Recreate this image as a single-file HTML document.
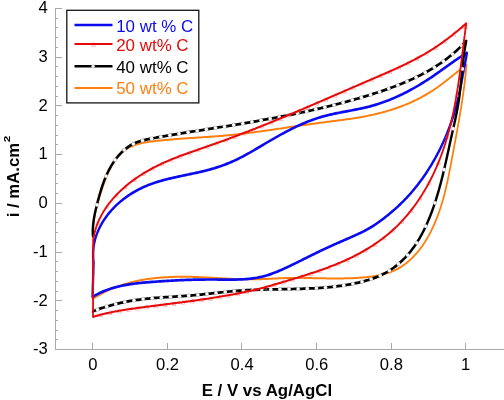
<!DOCTYPE html>
<html lang="en"><head><meta charset="utf-8"><title>Cyclic voltammograms</title><style>html,body{margin:0;padding:0;background:#fff}body{width:504px;height:400px;overflow:hidden}</style></head><body><svg width="504" height="400" viewBox="0 0 504 400" style="display:block">
<rect width="504" height="400" fill="#fff"/>
<g stroke="#a9a9a9" stroke-width="1" fill="none" shape-rendering="crispEdges">
<path d="M55.5,8.0 V349.5 H504"/>
<path d="M55.5,8.50 h6"/>
<path d="M55.5,18.24 h2.8"/>
<path d="M55.5,27.99 h2.8"/>
<path d="M55.5,37.73 h2.8"/>
<path d="M55.5,47.47 h2.8"/>
<path d="M55.5,57.21 h6"/>
<path d="M55.5,66.96 h2.8"/>
<path d="M55.5,76.70 h2.8"/>
<path d="M55.5,86.44 h2.8"/>
<path d="M55.5,96.19 h2.8"/>
<path d="M55.5,105.93 h6"/>
<path d="M55.5,115.67 h2.8"/>
<path d="M55.5,125.41 h2.8"/>
<path d="M55.5,135.16 h2.8"/>
<path d="M55.5,144.90 h2.8"/>
<path d="M55.5,154.64 h6"/>
<path d="M55.5,164.39 h2.8"/>
<path d="M55.5,174.13 h2.8"/>
<path d="M55.5,183.87 h2.8"/>
<path d="M55.5,193.61 h2.8"/>
<path d="M55.5,203.36 h6"/>
<path d="M55.5,213.10 h2.8"/>
<path d="M55.5,222.84 h2.8"/>
<path d="M55.5,232.59 h2.8"/>
<path d="M55.5,242.33 h2.8"/>
<path d="M55.5,252.07 h6"/>
<path d="M55.5,261.81 h2.8"/>
<path d="M55.5,271.56 h2.8"/>
<path d="M55.5,281.30 h2.8"/>
<path d="M55.5,291.04 h2.8"/>
<path d="M55.5,300.79 h6"/>
<path d="M55.5,310.53 h2.8"/>
<path d="M55.5,320.27 h2.8"/>
<path d="M55.5,330.01 h2.8"/>
<path d="M55.5,339.76 h2.8"/>
<path d="M92.5,349.5 v-6.2"/>
<path d="M167.5,349.5 v-6.2"/>
<path d="M241.5,349.5 v-6.2"/>
<path d="M316.5,349.5 v-6.2"/>
<path d="M391.5,349.5 v-6.2"/>
<path d="M465.5,349.5 v-6.2"/>
</g>
<g transform="scale(0.87,1)">
<path d="M107.24,232.00 L107.24,230.45 L107.28,228.91 L107.35,227.38 L107.46,225.86 L107.59,224.35 L107.76,222.86 L107.95,221.37 L108.17,219.89 L108.42,218.42 L108.69,216.95 L108.99,215.50 L109.31,214.04 L109.65,212.60 L110.01,211.16 L110.39,209.72 L110.79,208.28 L111.21,206.85 L111.64,205.42 L112.09,203.99 L112.56,202.56 L113.03,201.13 L113.52,199.70 L114.02,198.26 L114.52,196.83 L115.04,195.39 L115.56,193.95 L116.09,192.50 L116.62,191.05 L117.16,189.59 L117.71,188.14 L118.27,186.68 L118.84,185.22 L119.42,183.76 L120.01,182.30 L120.62,180.85 L121.24,179.40 L121.88,177.96 L122.54,176.53 L123.22,175.10 L123.93,173.68 L124.65,172.28 L125.40,170.89 L126.18,169.51 L126.98,168.14 L127.82,166.79 L128.68,165.46 L129.57,164.14 L130.50,162.85 L131.46,161.57 L132.46,160.32 L133.49,159.09 L134.57,157.89 L135.67,156.72 L136.82,155.58 L138.00,154.48 L139.22,153.42 L140.48,152.40 L141.77,151.44 L143.10,150.52 L144.46,149.67 L145.86,148.87 L147.29,148.12 L148.76,147.43 L150.25,146.79 L151.77,146.19 L153.32,145.64 L154.89,145.13 L156.49,144.66 L158.11,144.23 L159.74,143.83 L161.40,143.46 L163.07,143.13 L164.75,142.82 L166.45,142.54 L168.16,142.27 L169.88,142.03 L171.60,141.81 L173.33,141.60 L175.06,141.41 L176.80,141.22 L178.54,141.04 L180.28,140.87 L182.01,140.70 L183.75,140.54 L185.48,140.39 L187.22,140.24 L188.95,140.09 L190.68,139.95 L192.41,139.81 L194.15,139.68 L195.88,139.55 L197.61,139.42 L199.34,139.30 L201.07,139.18 L202.79,139.06 L204.52,138.95 L206.25,138.83 L207.98,138.72 L209.70,138.62 L211.43,138.51 L213.16,138.41 L214.88,138.31 L216.61,138.21 L218.33,138.11 L220.05,138.01 L221.78,137.91 L223.50,137.81 L225.22,137.71 L226.95,137.62 L228.67,137.52 L230.39,137.42 L232.11,137.32 L233.83,137.22 L235.55,137.12 L237.27,137.02 L238.99,136.92 L240.71,136.81 L242.43,136.70 L244.15,136.60 L245.87,136.48 L247.59,136.37 L249.31,136.25 L251.03,136.13 L252.75,136.01 L254.47,135.89 L256.18,135.76 L257.90,135.62 L259.62,135.49 L261.34,135.35 L263.06,135.20 L264.77,135.05 L266.49,134.90 L268.21,134.74 L269.93,134.58 L271.64,134.42 L273.36,134.25 L275.08,134.08 L276.80,133.91 L278.51,133.73 L280.23,133.55 L281.95,133.37 L283.66,133.19 L285.38,133.00 L287.10,132.81 L288.81,132.62 L290.53,132.42 L292.25,132.23 L293.96,132.03 L295.68,131.83 L297.40,131.62 L299.11,131.42 L300.83,131.21 L302.54,131.00 L304.26,130.79 L305.98,130.58 L307.69,130.37 L309.41,130.16 L311.12,129.94 L312.84,129.73 L314.55,129.51 L316.27,129.29 L317.99,129.07 L319.70,128.85 L321.42,128.63 L323.13,128.41 L324.85,128.19 L326.56,127.97 L328.28,127.75 L329.99,127.53 L331.71,127.30 L333.42,127.08 L335.14,126.86 L336.85,126.64 L338.57,126.42 L340.28,126.20 L342.00,125.98 L343.71,125.76 L345.43,125.55 L347.14,125.33 L348.86,125.11 L350.57,124.90 L352.29,124.68 L354.00,124.47 L355.72,124.26 L357.43,124.05 L359.15,123.84 L360.86,123.64 L362.58,123.43 L364.29,123.23 L366.01,123.03 L367.72,122.83 L369.44,122.63 L371.15,122.44 L372.87,122.25 L374.58,122.05 L376.30,121.86 L378.01,121.67 L379.72,121.48 L381.44,121.29 L383.15,121.10 L384.86,120.91 L386.58,120.72 L388.29,120.52 L390.00,120.33 L391.71,120.13 L393.42,119.93 L395.13,119.73 L396.84,119.52 L398.55,119.32 L400.26,119.10 L401.96,118.89 L403.67,118.67 L405.37,118.44 L407.08,118.21 L408.78,117.98 L410.48,117.74 L412.19,117.49 L413.89,117.24 L415.59,116.98 L417.28,116.71 L418.98,116.44 L420.67,116.16 L422.37,115.87 L424.06,115.57 L425.75,115.27 L427.44,114.95 L429.13,114.63 L430.82,114.30 L432.50,113.95 L434.19,113.60 L435.87,113.24 L437.55,112.87 L439.23,112.48 L440.90,112.09 L442.58,111.68 L444.25,111.27 L445.92,110.84 L447.58,110.40 L449.24,109.95 L450.90,109.50 L452.55,109.02 L454.20,108.54 L455.85,108.05 L457.49,107.55 L459.12,107.03 L460.75,106.50 L462.38,105.97 L464.00,105.42 L465.61,104.85 L467.22,104.28 L468.82,103.70 L470.42,103.10 L472.01,102.49 L473.59,101.87 L475.16,101.24 L476.73,100.59 L478.29,99.94 L479.85,99.27 L481.39,98.59 L482.93,97.90 L484.45,97.19 L485.97,96.47 L487.48,95.74 L488.99,95.00 L490.48,94.24 L491.96,93.48 L493.43,92.70 L494.90,91.90 L496.35,91.10 L497.79,90.28 L499.22,89.44 L500.64,88.60 L502.06,87.75 L503.46,86.88 L504.86,86.00 L506.25,85.12 L507.63,84.23 L509.01,83.32 L510.38,82.42 L511.75,81.50 L513.11,80.58 L514.47,79.66 L515.82,78.73 L517.18,77.79 L518.53,76.85 L519.88,75.92 L521.23,74.97 L522.58,74.03 L523.93,73.09 L525.28,72.15 L526.63,71.21 L527.99,70.27 L529.35,69.33 L530.71,68.39 L532.08,67.46 L533.45,66.54 L534.82,65.62 L536.21,64.70 L536.06,66.21 L535.91,67.72 L535.75,69.23 L535.59,70.74 L535.42,72.25 L535.24,73.76 L535.06,75.26 L534.87,76.76 L534.68,78.27 L534.49,79.77 L534.28,81.27 L534.08,82.77 L533.87,84.26 L533.65,85.76 L533.43,87.26 L533.20,88.75 L532.97,90.24 L532.74,91.74 L532.50,93.23 L532.26,94.72 L532.01,96.21 L531.76,97.70 L531.51,99.19 L531.25,100.67 L530.99,102.16 L530.72,103.65 L530.45,105.13 L530.18,106.62 L529.91,108.10 L529.63,109.58 L529.35,111.07 L529.07,112.55 L528.78,114.03 L528.49,115.52 L528.20,117.00 L527.91,118.48 L527.61,119.96 L527.31,121.44 L527.02,122.92 L526.71,124.40 L526.41,125.88 L526.10,127.36 L525.80,128.84 L525.49,130.32 L525.18,131.80 L524.87,133.28 L524.56,134.76 L524.24,136.24 L523.93,137.72 L523.61,139.20 L523.30,140.68 L522.98,142.16 L522.66,143.64 L522.35,145.12 L522.03,146.60 L521.71,148.08 L521.39,149.56 L521.07,151.04 L520.75,152.53 L520.44,154.01 L520.12,155.49 L519.80,156.98 L519.48,158.46 L519.17,159.95 L518.85,161.43 L518.53,162.92 L518.21,164.40 L517.88,165.88 L517.56,167.37 L517.23,168.85 L516.90,170.34 L516.57,171.82 L516.23,173.30 L515.89,174.78 L515.54,176.26 L515.19,177.74 L514.84,179.22 L514.48,180.70 L514.11,182.18 L513.74,183.65 L513.36,185.12 L512.97,186.59 L512.58,188.06 L512.18,189.53 L511.77,191.00 L511.35,192.46 L510.92,193.92 L510.49,195.38 L510.04,196.84 L509.59,198.29 L509.13,199.75 L508.65,201.20 L508.16,202.64 L507.67,204.09 L507.16,205.53 L506.64,206.96 L506.11,208.40 L505.56,209.83 L505.00,211.26 L504.43,212.68 L503.85,214.10 L503.25,215.52 L502.63,216.93 L502.00,218.34 L501.36,219.75 L500.70,221.15 L500.03,222.54 L499.34,223.94 L498.63,225.32 L497.90,226.71 L497.16,228.08 L496.40,229.46 L495.62,230.83 L494.83,232.19 L494.01,233.54 L493.18,234.89 L492.33,236.23 L491.46,237.56 L490.57,238.87 L489.67,240.18 L488.74,241.48 L487.80,242.76 L486.84,244.03 L485.85,245.29 L484.85,246.53 L483.83,247.75 L482.79,248.96 L481.73,250.16 L480.65,251.33 L479.55,252.49 L478.42,253.62 L477.28,254.74 L476.12,255.84 L474.94,256.91 L473.73,257.96 L472.51,258.99 L471.26,259.99 L470.00,260.97 L468.71,261.93 L467.40,262.85 L466.07,263.76 L464.71,264.63 L463.34,265.47 L461.94,266.29 L460.52,267.07 L459.08,267.82 L457.62,268.55 L456.13,269.23 L454.63,269.89 L453.09,270.51 L451.54,271.10 L449.97,271.66 L448.37,272.18 L446.76,272.68 L445.13,273.14 L443.48,273.58 L441.82,273.99 L440.14,274.37 L438.45,274.73 L436.75,275.07 L435.03,275.38 L433.31,275.67 L431.58,275.93 L429.83,276.18 L428.08,276.41 L426.33,276.62 L424.57,276.82 L422.81,277.00 L421.04,277.16 L419.27,277.31 L417.51,277.45 L415.74,277.57 L413.97,277.69 L412.21,277.79 L410.45,277.89 L408.69,277.98 L406.94,278.06 L405.18,278.13 L403.43,278.19 L401.69,278.24 L399.94,278.29 L398.20,278.33 L396.46,278.37 L394.72,278.39 L392.98,278.42 L391.25,278.43 L389.51,278.44 L387.78,278.45 L386.05,278.45 L384.32,278.45 L382.59,278.44 L380.87,278.43 L379.14,278.42 L377.42,278.40 L375.69,278.38 L373.97,278.36 L372.25,278.34 L370.53,278.31 L368.81,278.29 L367.09,278.26 L365.37,278.23 L363.65,278.20 L361.93,278.17 L360.22,278.15 L358.50,278.12 L356.78,278.09 L355.06,278.07 L353.34,278.04 L351.63,278.02 L349.91,278.00 L348.19,277.98 L346.47,277.97 L344.75,277.96 L343.03,277.95 L341.31,277.95 L339.58,277.95 L337.86,277.95 L336.14,277.96 L334.41,277.98 L332.68,278.00 L330.96,278.03 L329.23,278.06 L327.50,278.10 L325.76,278.14 L324.03,278.19 L322.30,278.25 L320.56,278.31 L318.82,278.38 L317.08,278.45 L315.35,278.52 L313.61,278.59 L311.87,278.66 L310.13,278.73 L308.39,278.81 L306.65,278.88 L304.91,278.95 L303.17,279.01 L301.43,279.07 L299.69,279.13 L297.95,279.19 L296.21,279.23 L294.48,279.27 L292.74,279.31 L291.01,279.33 L289.27,279.35 L287.54,279.35 L285.81,279.35 L284.08,279.34 L282.36,279.33 L280.63,279.30 L278.90,279.27 L277.18,279.23 L275.45,279.19 L273.73,279.14 L272.01,279.08 L270.29,279.02 L268.56,278.96 L266.84,278.89 L265.12,278.82 L263.40,278.74 L261.68,278.66 L259.96,278.58 L258.23,278.49 L256.51,278.41 L254.79,278.32 L253.07,278.23 L251.34,278.14 L249.62,278.05 L247.89,277.96 L246.17,277.88 L244.44,277.79 L242.72,277.70 L240.99,277.62 L239.26,277.53 L237.53,277.45 L235.79,277.38 L234.06,277.30 L232.33,277.23 L230.59,277.16 L228.85,277.10 L227.11,277.04 L225.37,276.99 L223.63,276.94 L221.89,276.90 L220.14,276.86 L218.40,276.83 L216.65,276.80 L214.91,276.78 L213.16,276.77 L211.42,276.76 L209.67,276.76 L207.93,276.76 L206.18,276.78 L204.44,276.80 L202.69,276.82 L200.95,276.86 L199.21,276.90 L197.47,276.95 L195.73,277.01 L193.99,277.08 L192.25,277.16 L190.51,277.24 L188.78,277.34 L187.04,277.45 L185.31,277.56 L183.58,277.68 L181.86,277.82 L180.13,277.96 L178.41,278.12 L176.69,278.29 L174.97,278.46 L173.25,278.65 L171.54,278.85 L169.83,279.06 L168.13,279.29 L166.42,279.52 L164.72,279.77 L163.03,280.03 L161.34,280.30 L159.65,280.59 L157.96,280.89 L156.28,281.20 L154.60,281.53 L152.93,281.87 L151.27,282.22 L149.60,282.59 L147.94,282.98 L146.29,283.37 L144.64,283.79 L143.00,284.22 L141.36,284.66 L139.73,285.12 L138.10,285.59 L136.48,286.08 L134.86,286.59 L133.25,287.12 L131.65,287.66 L130.05,288.21 L128.46,288.79 L126.87,289.38 L125.29,289.99 L123.72,290.62 L122.15,291.26 L120.59,291.92 L119.04,292.61 L117.50,293.31 L115.96,294.03 L114.43,294.76 L112.91,295.52 L111.39,296.30 L109.89,297.10 L108.39,297.91 L106.90,298.75 L107.24,232.00" fill="none" stroke="#ff7f0e" stroke-width="2.0" stroke-linejoin="round" stroke-linecap="round"/>
<path d="M107.59,262.00 L107.36,260.45 L107.19,258.91 L107.07,257.37 L107.00,255.84 L106.98,254.31 L107.00,252.79 L107.08,251.28 L107.20,249.77 L107.37,248.28 L107.58,246.79 L107.84,245.31 L108.14,243.84 L108.48,242.38 L108.87,240.92 L109.30,239.48 L109.76,238.05 L110.27,236.63 L110.81,235.22 L111.39,233.82 L112.01,232.43 L112.67,231.06 L113.36,229.70 L114.08,228.35 L114.84,227.01 L115.63,225.69 L116.45,224.38 L117.31,223.09 L118.19,221.81 L119.10,220.54 L120.04,219.29 L121.01,218.06 L122.01,216.84 L123.03,215.64 L124.08,214.45 L125.16,213.28 L126.26,212.13 L127.39,210.99 L128.54,209.87 L129.71,208.76 L130.91,207.68 L132.12,206.61 L133.36,205.55 L134.63,204.52 L135.91,203.50 L137.21,202.50 L138.53,201.52 L139.87,200.55 L141.23,199.61 L142.61,198.68 L144.00,197.77 L145.41,196.88 L146.83,196.01 L148.28,195.16 L149.73,194.33 L151.20,193.52 L152.69,192.73 L154.18,191.95 L155.69,191.20 L157.22,190.47 L158.75,189.76 L160.29,189.06 L161.85,188.39 L163.41,187.74 L164.99,187.11 L166.57,186.51 L168.16,185.92 L169.76,185.35 L171.36,184.80 L172.98,184.27 L174.60,183.75 L176.23,183.25 L177.86,182.77 L179.50,182.31 L181.15,181.85 L182.80,181.42 L184.46,180.99 L186.12,180.58 L187.79,180.18 L189.46,179.79 L191.14,179.41 L192.82,179.04 L194.50,178.68 L196.19,178.33 L197.88,177.98 L199.57,177.64 L201.26,177.31 L202.96,176.98 L204.66,176.66 L206.36,176.34 L208.06,176.03 L209.77,175.72 L211.47,175.41 L213.17,175.10 L214.88,174.79 L216.58,174.48 L218.28,174.17 L219.98,173.86 L221.68,173.54 L223.38,173.23 L225.08,172.91 L226.78,172.58 L228.47,172.25 L230.16,171.92 L231.85,171.57 L233.53,171.22 L235.21,170.86 L236.89,170.50 L238.56,170.12 L240.23,169.74 L241.89,169.34 L243.55,168.93 L245.20,168.51 L246.85,168.08 L248.49,167.63 L250.13,167.17 L251.76,166.70 L253.39,166.22 L255.01,165.72 L256.62,165.21 L258.23,164.69 L259.83,164.15 L261.42,163.60 L263.01,163.04 L264.60,162.47 L266.18,161.88 L267.75,161.28 L269.31,160.66 L270.87,160.03 L272.43,159.39 L273.97,158.74 L275.51,158.07 L277.05,157.39 L278.58,156.70 L280.11,155.99 L281.63,155.28 L283.14,154.56 L284.66,153.83 L286.17,153.09 L287.67,152.35 L289.18,151.60 L290.68,150.84 L292.18,150.08 L293.67,149.32 L295.17,148.55 L296.67,147.78 L298.16,147.01 L299.65,146.24 L301.15,145.47 L302.64,144.69 L304.14,143.92 L305.64,143.15 L307.13,142.39 L308.63,141.62 L310.13,140.86 L311.63,140.10 L313.14,139.34 L314.64,138.59 L316.15,137.84 L317.65,137.09 L319.17,136.35 L320.68,135.61 L322.19,134.88 L323.71,134.15 L325.23,133.43 L326.75,132.72 L328.28,132.01 L329.81,131.31 L331.34,130.61 L332.87,129.93 L334.41,129.25 L335.96,128.58 L337.50,127.91 L339.05,127.26 L340.61,126.61 L342.16,125.98 L343.73,125.35 L345.29,124.73 L346.87,124.13 L348.44,123.53 L350.02,122.95 L351.61,122.38 L353.20,121.81 L354.80,121.27 L356.40,120.73 L358.01,120.20 L359.62,119.69 L361.24,119.19 L362.87,118.71 L364.50,118.24 L366.14,117.78 L367.78,117.34 L369.43,116.92 L371.09,116.50 L372.75,116.11 L374.42,115.73 L376.10,115.36 L377.78,115.00 L379.47,114.65 L381.16,114.32 L382.85,113.99 L384.55,113.67 L386.25,113.36 L387.96,113.06 L389.67,112.76 L391.38,112.47 L393.09,112.18 L394.80,111.90 L396.52,111.62 L398.23,111.34 L399.95,111.06 L401.66,110.78 L403.38,110.49 L405.09,110.21 L406.81,109.92 L408.52,109.63 L410.23,109.34 L411.94,109.04 L413.64,108.73 L415.35,108.42 L417.04,108.09 L418.74,107.76 L420.43,107.42 L422.12,107.06 L423.80,106.70 L425.47,106.32 L427.14,105.93 L428.81,105.52 L430.46,105.10 L432.12,104.67 L433.76,104.23 L435.41,103.77 L437.04,103.30 L438.67,102.82 L440.30,102.32 L441.92,101.81 L443.53,101.29 L445.14,100.76 L446.74,100.22 L448.34,99.67 L449.93,99.10 L451.52,98.52 L453.10,97.93 L454.68,97.33 L456.25,96.72 L457.81,96.10 L459.37,95.47 L460.93,94.83 L462.48,94.17 L464.02,93.51 L465.56,92.84 L467.10,92.16 L468.63,91.47 L470.15,90.76 L471.67,90.05 L473.19,89.33 L474.70,88.61 L476.20,87.87 L477.70,87.12 L479.20,86.37 L480.69,85.61 L482.18,84.83 L483.66,84.06 L485.13,83.27 L486.60,82.47 L488.07,81.67 L489.53,80.86 L490.99,80.05 L492.44,79.22 L493.89,78.39 L495.34,77.55 L496.78,76.71 L498.21,75.86 L499.64,75.00 L501.07,74.14 L502.49,73.27 L503.91,72.40 L505.33,71.53 L506.75,70.65 L508.16,69.77 L509.57,68.89 L510.98,68.01 L512.39,67.13 L513.80,66.25 L515.21,65.37 L516.63,64.49 L518.04,63.62 L519.45,62.75 L520.87,61.88 L522.28,61.02 L523.70,60.16 L525.13,59.31 L526.55,58.47 L527.98,57.63 L529.42,56.80 L530.86,55.98 L532.30,55.17 L533.75,54.37 L535.20,53.58 L536.67,52.80 L536.42,54.28 L536.15,55.76 L535.86,57.24 L535.55,58.72 L535.24,60.19 L534.92,61.67 L534.59,63.14 L534.25,64.62 L533.92,66.09 L533.59,67.57 L533.26,69.04 L532.94,70.52 L532.62,72.00 L532.30,73.48 L531.99,74.96 L531.68,76.44 L531.37,77.92 L531.06,79.40 L530.75,80.89 L530.44,82.37 L530.12,83.85 L529.80,85.33 L529.47,86.81 L529.14,88.29 L528.80,89.77 L528.46,91.24 L528.10,92.71 L527.74,94.19 L527.36,95.66 L526.98,97.12 L526.58,98.59 L526.18,100.05 L525.76,101.51 L525.34,102.97 L524.90,104.43 L524.45,105.88 L524.00,107.33 L523.53,108.78 L523.06,110.23 L522.57,111.67 L522.07,113.11 L521.57,114.55 L521.05,115.98 L520.52,117.41 L519.98,118.84 L519.44,120.27 L518.88,121.69 L518.31,123.11 L517.73,124.52 L517.14,125.94 L516.54,127.34 L515.93,128.75 L515.31,130.15 L514.68,131.55 L514.04,132.95 L513.39,134.34 L512.73,135.73 L512.06,137.11 L511.37,138.49 L510.68,139.87 L509.98,141.24 L509.27,142.61 L508.54,143.97 L507.81,145.33 L507.07,146.69 L506.31,148.04 L505.55,149.39 L504.77,150.73 L503.99,152.07 L503.19,153.40 L502.38,154.73 L501.57,156.06 L500.74,157.38 L499.90,158.69 L499.05,160.00 L498.19,161.31 L497.32,162.61 L496.44,163.91 L495.55,165.20 L494.65,166.49 L493.74,167.77 L492.82,169.04 L491.89,170.31 L490.94,171.58 L489.99,172.84 L489.03,174.09 L488.05,175.34 L487.07,176.58 L486.07,177.81 L485.06,179.04 L484.05,180.26 L483.02,181.48 L481.98,182.68 L480.93,183.89 L479.87,185.08 L478.80,186.26 L477.72,187.44 L476.62,188.61 L475.52,189.78 L474.40,190.93 L473.28,192.08 L472.14,193.21 L471.00,194.34 L469.84,195.46 L468.67,196.58 L467.49,197.68 L466.30,198.77 L465.09,199.86 L463.88,200.93 L462.66,202.00 L461.43,203.06 L460.18,204.11 L458.93,205.15 L457.67,206.18 L456.40,207.20 L455.12,208.22 L453.83,209.22 L452.53,210.22 L451.22,211.20 L449.91,212.18 L448.58,213.15 L447.25,214.11 L445.92,215.06 L444.57,216.00 L443.22,216.94 L441.86,217.86 L440.49,218.78 L439.11,219.69 L437.73,220.59 L436.35,221.47 L434.95,222.35 L433.54,223.21 L432.13,224.07 L430.70,224.90 L429.26,225.72 L427.81,226.52 L426.35,227.31 L424.88,228.07 L423.39,228.82 L421.89,229.54 L420.37,230.26 L418.85,230.95 L417.32,231.63 L415.77,232.30 L414.22,232.96 L412.66,233.60 L411.09,234.24 L409.52,234.87 L407.94,235.49 L406.36,236.10 L404.78,236.71 L403.19,237.31 L401.60,237.92 L400.01,238.52 L398.42,239.12 L396.83,239.72 L395.24,240.32 L393.65,240.92 L392.06,241.53 L390.48,242.13 L388.89,242.74 L387.30,243.35 L385.72,243.96 L384.14,244.57 L382.56,245.19 L380.98,245.80 L379.40,246.42 L377.83,247.05 L376.26,247.68 L374.68,248.31 L373.12,248.94 L371.55,249.58 L369.99,250.22 L368.42,250.87 L366.87,251.53 L365.31,252.18 L363.75,252.84 L362.20,253.50 L360.65,254.17 L359.10,254.83 L357.55,255.50 L356.00,256.17 L354.45,256.84 L352.90,257.52 L351.35,258.19 L349.80,258.86 L348.25,259.53 L346.70,260.20 L345.15,260.87 L343.60,261.54 L342.05,262.21 L340.50,262.87 L338.94,263.54 L337.38,264.20 L335.82,264.85 L334.26,265.50 L332.69,266.15 L331.13,266.79 L329.56,267.43 L327.98,268.06 L326.41,268.69 L324.82,269.31 L323.24,269.92 L321.65,270.53 L320.06,271.12 L318.46,271.70 L316.86,272.26 L315.25,272.81 L313.64,273.34 L312.02,273.86 L310.39,274.35 L308.76,274.83 L307.13,275.28 L305.49,275.70 L303.84,276.10 L302.18,276.48 L300.52,276.83 L298.85,277.15 L297.18,277.44 L295.50,277.72 L293.81,277.97 L292.12,278.19 L290.42,278.40 L288.72,278.59 L287.01,278.75 L285.30,278.90 L283.59,279.04 L281.87,279.15 L280.15,279.25 L278.42,279.34 L276.69,279.41 L274.96,279.47 L273.23,279.52 L271.49,279.56 L269.75,279.58 L268.01,279.60 L266.27,279.61 L264.53,279.62 L262.79,279.62 L261.04,279.61 L259.29,279.60 L257.55,279.59 L255.80,279.58 L254.06,279.56 L252.31,279.54 L250.57,279.53 L248.82,279.52 L247.08,279.50 L245.34,279.50 L243.60,279.49 L241.86,279.49 L240.12,279.50 L238.39,279.51 L236.65,279.52 L234.92,279.53 L233.18,279.55 L231.45,279.57 L229.72,279.59 L227.99,279.62 L226.26,279.65 L224.53,279.69 L222.81,279.72 L221.08,279.77 L219.35,279.81 L217.63,279.86 L215.90,279.91 L214.18,279.96 L212.45,280.02 L210.73,280.08 L209.01,280.14 L207.28,280.20 L205.56,280.27 L203.84,280.34 L202.12,280.42 L200.39,280.49 L198.67,280.57 L196.95,280.65 L195.23,280.74 L193.50,280.83 L191.78,280.92 L190.06,281.01 L188.34,281.10 L186.61,281.20 L184.89,281.30 L183.16,281.40 L181.44,281.51 L179.71,281.62 L177.99,281.73 L176.26,281.84 L174.53,281.95 L172.81,282.07 L171.08,282.19 L169.35,282.31 L167.62,282.44 L165.89,282.58 L164.17,282.72 L162.44,282.86 L160.72,283.02 L158.99,283.18 L157.27,283.35 L155.55,283.53 L153.84,283.73 L152.12,283.93 L150.41,284.14 L148.70,284.37 L147.00,284.61 L145.30,284.86 L143.60,285.13 L141.91,285.41 L140.22,285.71 L138.54,286.03 L136.86,286.36 L135.19,286.71 L133.52,287.08 L131.86,287.47 L130.21,287.88 L128.56,288.31 L126.92,288.76 L125.29,289.23 L123.66,289.73 L122.04,290.25 L120.43,290.79 L118.82,291.36 L117.23,291.96 L115.64,292.58 L114.07,293.23 L112.50,293.90 L110.94,294.61 L109.39,295.34 L107.85,296.11 L106.32,296.90 L107.59,262.00" fill="none" stroke="#0b0bf0" stroke-width="2.7" stroke-linejoin="round" stroke-linecap="round"/>
<path d="M106.78,236.00 L106.70,234.45 L106.65,232.92 L106.64,231.39 L106.68,229.87 L106.74,228.37 L106.84,226.87 L106.98,225.37 L107.14,223.89 L107.34,222.41 L107.56,220.94 L107.81,219.47 L108.08,218.00 L108.37,216.54 L108.69,215.08 L109.02,213.63 L109.37,212.17 L109.74,210.72 L110.13,209.26 L110.52,207.81 L110.93,206.35 L111.34,204.89 L111.76,203.42 L112.19,201.96 L112.63,200.49 L113.08,199.02 L113.53,197.55 L114.00,196.08 L114.47,194.61 L114.96,193.14 L115.46,191.67 L115.97,190.20 L116.50,188.74 L117.04,187.28 L117.60,185.83 L118.17,184.38 L118.77,182.93 L119.38,181.50 L120.01,180.07 L120.65,178.65 L121.32,177.24 L122.01,175.83 L122.72,174.44 L123.46,173.06 L124.22,171.69 L125.00,170.33 L125.81,168.99 L126.65,167.66 L127.51,166.34 L128.40,165.04 L129.32,163.75 L130.26,162.48 L131.24,161.23 L132.25,160.00 L133.29,158.78 L134.36,157.59 L135.47,156.42 L136.60,155.27 L137.77,154.15 L138.96,153.05 L140.19,151.99 L141.45,150.96 L142.73,149.97 L144.05,149.01 L145.40,148.08 L146.78,147.20 L148.18,146.36 L149.62,145.57 L151.08,144.82 L152.57,144.12 L154.09,143.47 L155.64,142.87 L157.22,142.32 L158.81,141.81 L160.43,141.34 L162.07,140.91 L163.72,140.51 L165.39,140.14 L167.08,139.79 L168.77,139.46 L170.47,139.15 L172.18,138.86 L173.89,138.57 L175.60,138.29 L177.31,138.01 L179.03,137.74 L180.74,137.46 L182.45,137.19 L184.17,136.93 L185.88,136.66 L187.59,136.40 L189.31,136.14 L191.02,135.88 L192.73,135.62 L194.45,135.37 L196.16,135.12 L197.87,134.87 L199.59,134.62 L201.30,134.37 L203.01,134.12 L204.73,133.88 L206.44,133.64 L208.15,133.39 L209.87,133.15 L211.58,132.91 L213.29,132.67 L215.01,132.43 L216.72,132.19 L218.43,131.96 L220.15,131.72 L221.86,131.48 L223.57,131.25 L225.29,131.01 L227.00,130.78 L228.71,130.54 L230.43,130.31 L232.14,130.07 L233.85,129.84 L235.57,129.60 L237.28,129.36 L238.99,129.13 L240.70,128.89 L242.42,128.65 L244.13,128.42 L245.84,128.18 L247.56,127.94 L249.27,127.71 L250.98,127.47 L252.69,127.23 L254.41,126.99 L256.12,126.75 L257.83,126.51 L259.54,126.27 L261.25,126.03 L262.96,125.78 L264.67,125.54 L266.39,125.30 L268.10,125.05 L269.81,124.81 L271.52,124.56 L273.23,124.32 L274.94,124.07 L276.65,123.82 L278.36,123.57 L280.07,123.32 L281.78,123.07 L283.49,122.82 L285.19,122.56 L286.90,122.31 L288.61,122.06 L290.32,121.80 L292.03,121.54 L293.73,121.28 L295.44,121.02 L297.15,120.76 L298.85,120.50 L300.56,120.23 L302.27,119.97 L303.97,119.70 L305.68,119.43 L307.38,119.16 L309.09,118.89 L310.79,118.62 L312.49,118.35 L314.20,118.07 L315.90,117.79 L317.60,117.51 L319.30,117.23 L321.01,116.95 L322.71,116.67 L324.41,116.38 L326.11,116.09 L327.81,115.80 L329.51,115.51 L331.21,115.22 L332.91,114.92 L334.60,114.63 L336.30,114.33 L338.00,114.03 L339.70,113.72 L341.39,113.42 L343.09,113.11 L344.78,112.80 L346.48,112.49 L348.17,112.18 L349.87,111.86 L351.56,111.54 L353.25,111.22 L354.95,110.90 L356.64,110.57 L358.33,110.25 L360.02,109.91 L361.71,109.58 L363.40,109.25 L365.09,108.91 L366.78,108.57 L368.46,108.23 L370.15,107.88 L371.84,107.53 L373.52,107.18 L375.21,106.83 L376.89,106.47 L378.58,106.11 L380.26,105.75 L381.94,105.39 L383.62,105.02 L385.31,104.65 L386.99,104.28 L388.67,103.90 L390.34,103.52 L392.02,103.14 L393.70,102.75 L395.38,102.37 L397.05,101.97 L398.73,101.58 L400.41,101.18 L402.08,100.78 L403.75,100.38 L405.43,99.97 L407.10,99.56 L408.77,99.14 L410.44,98.73 L412.11,98.31 L413.78,97.88 L415.45,97.45 L417.11,97.02 L418.78,96.59 L420.45,96.15 L422.11,95.71 L423.77,95.26 L425.44,94.81 L427.10,94.36 L428.76,93.90 L430.42,93.44 L432.08,92.98 L433.74,92.51 L435.39,92.04 L437.05,91.56 L438.70,91.07 L440.35,90.59 L441.99,90.09 L443.64,89.59 L445.28,89.09 L446.92,88.58 L448.56,88.07 L450.19,87.54 L451.82,87.02 L453.45,86.48 L455.08,85.95 L456.70,85.40 L458.31,84.85 L459.93,84.29 L461.54,83.72 L463.14,83.15 L464.74,82.57 L466.34,81.98 L467.93,81.38 L469.52,80.78 L471.10,80.17 L472.67,79.55 L474.25,78.92 L475.81,78.29 L477.37,77.64 L478.93,76.99 L480.48,76.33 L482.02,75.66 L483.56,74.98 L485.09,74.29 L486.61,73.59 L488.13,72.88 L489.64,72.17 L491.14,71.44 L492.64,70.70 L494.13,69.95 L495.61,69.20 L497.09,68.43 L498.55,67.65 L500.01,66.86 L501.46,66.06 L502.91,65.25 L504.34,64.42 L505.77,63.59 L507.19,62.74 L508.60,61.89 L510.00,61.02 L511.39,60.14 L512.77,59.24 L514.14,58.34 L515.51,57.42 L516.86,56.49 L518.21,55.54 L519.54,54.59 L520.87,53.62 L522.18,52.63 L523.48,51.64 L524.78,50.63 L526.06,49.60 L527.33,48.56 L528.59,47.51 L529.84,46.45 L531.08,45.37 L532.31,44.27 L533.52,43.16 L534.73,42.04 L535.92,40.90 L535.58,42.38 L535.26,43.86 L534.95,45.34 L534.65,46.82 L534.37,48.30 L534.09,49.79 L533.83,51.28 L533.58,52.76 L533.34,54.25 L533.11,55.74 L532.89,57.23 L532.67,58.73 L532.47,60.22 L532.27,61.71 L532.07,63.21 L531.88,64.70 L531.70,66.20 L531.52,67.70 L531.34,69.19 L531.17,70.69 L531.00,72.19 L530.83,73.69 L530.66,75.18 L530.49,76.68 L530.32,78.18 L530.16,79.68 L529.98,81.18 L529.81,82.68 L529.64,84.17 L529.46,85.67 L529.28,87.17 L529.09,88.67 L528.89,90.16 L528.70,91.66 L528.49,93.15 L528.28,94.65 L528.06,96.14 L527.83,97.63 L527.59,99.13 L527.34,100.62 L527.08,102.11 L526.82,103.59 L526.53,105.08 L526.24,106.57 L525.94,108.05 L525.62,109.54 L525.30,111.02 L524.96,112.50 L524.62,113.98 L524.27,115.46 L523.91,116.94 L523.54,118.41 L523.18,119.89 L522.80,121.37 L522.42,122.84 L522.04,124.32 L521.66,125.79 L521.28,127.26 L520.89,128.73 L520.51,130.21 L520.13,131.68 L519.75,133.15 L519.37,134.62 L518.99,136.09 L518.62,137.56 L518.25,139.03 L517.88,140.50 L517.51,141.97 L517.14,143.44 L516.77,144.90 L516.41,146.37 L516.04,147.84 L515.67,149.30 L515.31,150.77 L514.94,152.24 L514.57,153.70 L514.20,155.16 L513.83,156.63 L513.46,158.09 L513.08,159.55 L512.71,161.02 L512.33,162.48 L511.95,163.94 L511.57,165.40 L511.18,166.86 L510.79,168.32 L510.40,169.77 L510.00,171.23 L509.60,172.69 L509.20,174.14 L508.79,175.60 L508.37,177.05 L507.95,178.51 L507.53,179.96 L507.10,181.41 L506.66,182.86 L506.22,184.31 L505.77,185.76 L505.32,187.21 L504.86,188.66 L504.39,190.11 L503.91,191.55 L503.43,193.00 L502.94,194.44 L502.44,195.88 L501.93,197.33 L501.42,198.77 L500.89,200.21 L500.36,201.65 L499.82,203.08 L499.26,204.52 L498.70,205.96 L498.13,207.39 L497.55,208.83 L496.95,210.26 L496.35,211.69 L495.73,213.12 L495.11,214.54 L494.47,215.96 L493.82,217.38 L493.15,218.79 L492.48,220.20 L491.79,221.61 L491.09,223.00 L490.38,224.40 L489.65,225.78 L488.90,227.16 L488.15,228.54 L487.38,229.90 L486.59,231.26 L485.79,232.61 L484.97,233.95 L484.14,235.28 L483.29,236.60 L482.43,237.91 L481.54,239.21 L480.65,240.50 L479.73,241.78 L478.80,243.05 L477.85,244.30 L476.88,245.55 L475.89,246.78 L474.89,247.99 L473.86,249.20 L472.82,250.39 L471.76,251.56 L470.67,252.72 L469.57,253.87 L468.45,254.99 L467.31,256.11 L466.14,257.20 L464.96,258.28 L463.75,259.34 L462.52,260.39 L461.27,261.41 L460.00,262.42 L458.70,263.41 L457.39,264.38 L456.05,265.32 L454.69,266.25 L453.31,267.16 L451.91,268.04 L450.49,268.91 L449.06,269.75 L447.60,270.56 L446.13,271.36 L444.64,272.13 L443.13,272.87 L441.61,273.59 L440.08,274.28 L438.53,274.95 L436.96,275.59 L435.38,276.21 L433.79,276.80 L432.19,277.36 L430.57,277.90 L428.95,278.41 L427.31,278.91 L425.67,279.38 L424.02,279.83 L422.36,280.26 L420.70,280.68 L419.03,281.08 L417.35,281.46 L415.67,281.83 L413.99,282.19 L412.31,282.53 L410.62,282.86 L408.93,283.18 L407.24,283.49 L405.55,283.79 L403.86,284.07 L402.16,284.35 L400.47,284.61 L398.77,284.86 L397.07,285.11 L395.36,285.34 L393.66,285.56 L391.95,285.78 L390.24,285.98 L388.53,286.18 L386.82,286.36 L385.11,286.54 L383.40,286.71 L381.68,286.87 L379.97,287.03 L378.25,287.18 L376.53,287.31 L374.81,287.45 L373.09,287.57 L371.36,287.69 L369.64,287.80 L367.92,287.91 L366.19,288.01 L364.46,288.10 L362.73,288.19 L361.01,288.27 L359.28,288.35 L357.55,288.42 L355.81,288.49 L354.08,288.55 L352.35,288.61 L350.62,288.67 L348.88,288.72 L347.15,288.77 L345.41,288.81 L343.68,288.86 L341.94,288.90 L340.20,288.93 L338.46,288.97 L336.73,289.00 L334.99,289.03 L333.25,289.06 L331.51,289.09 L329.77,289.11 L328.03,289.14 L326.30,289.16 L324.56,289.19 L322.82,289.21 L321.08,289.24 L319.34,289.26 L317.60,289.29 L315.86,289.31 L314.12,289.34 L312.38,289.36 L310.65,289.39 L308.91,289.42 L307.17,289.45 L305.43,289.49 L303.70,289.53 L301.96,289.56 L300.22,289.61 L298.49,289.65 L296.75,289.70 L295.02,289.75 L293.28,289.81 L291.55,289.86 L289.82,289.93 L288.09,289.99 L286.35,290.07 L284.62,290.14 L282.89,290.23 L281.17,290.31 L279.44,290.41 L277.71,290.50 L275.99,290.61 L274.26,290.72 L272.54,290.84 L270.82,290.96 L269.09,291.08 L267.37,291.22 L265.65,291.35 L263.93,291.50 L262.22,291.64 L260.50,291.79 L258.78,291.94 L257.06,292.10 L255.35,292.25 L253.63,292.41 L251.91,292.57 L250.20,292.73 L248.48,292.90 L246.76,293.06 L245.05,293.23 L243.33,293.39 L241.62,293.56 L239.90,293.72 L238.18,293.88 L236.47,294.04 L234.75,294.20 L233.03,294.36 L231.31,294.52 L229.59,294.67 L227.87,294.82 L226.15,294.96 L224.43,295.11 L222.71,295.25 L220.99,295.38 L219.26,295.51 L217.54,295.63 L215.81,295.75 L214.09,295.86 L212.36,295.97 L210.63,296.08 L208.90,296.18 L207.17,296.28 L205.44,296.38 L203.71,296.48 L201.98,296.57 L200.25,296.67 L198.52,296.76 L196.78,296.85 L195.05,296.94 L193.32,297.04 L191.59,297.13 L189.86,297.23 L188.12,297.33 L186.39,297.43 L184.66,297.53 L182.93,297.64 L181.20,297.75 L179.47,297.87 L177.74,297.99 L176.02,298.11 L174.29,298.25 L172.56,298.38 L170.84,298.53 L169.11,298.68 L167.39,298.84 L165.67,299.00 L163.95,299.18 L162.23,299.36 L160.51,299.56 L158.80,299.76 L157.08,299.97 L155.37,300.19 L153.66,300.42 L151.95,300.67 L150.24,300.92 L148.54,301.18 L146.84,301.45 L145.14,301.74 L143.44,302.03 L141.74,302.33 L140.05,302.65 L138.36,302.97 L136.67,303.30 L134.99,303.65 L133.31,304.01 L131.63,304.37 L129.95,304.75 L128.28,305.14 L126.62,305.54 L124.95,305.96 L123.29,306.38 L121.63,306.81 L119.98,307.26 L118.33,307.72 L116.68,308.19 L115.04,308.67 L113.40,309.16 L111.77,309.66 L110.14,310.18 L108.52,310.71 L106.90,311.25" fill="none" stroke="#000000" stroke-width="2.75" stroke-linejoin="round" stroke-linecap="round"/>
<g fill="#fff" stroke="#777" stroke-width="0.3"><ellipse cx="111.4" cy="204.8" rx="2.13" ry="1.85"/><ellipse cx="121.9" cy="176.1" rx="2.13" ry="1.85"/><ellipse cx="132.3" cy="159.9" rx="2.13" ry="1.85"/><ellipse cx="142.8" cy="149.9" rx="2.13" ry="1.85"/><ellipse cx="153.3" cy="143.8" rx="2.13" ry="1.85"/><ellipse cx="163.8" cy="140.5" rx="2.13" ry="1.85"/><ellipse cx="174.3" cy="138.5" rx="2.13" ry="1.85"/><ellipse cx="184.8" cy="136.8" rx="2.13" ry="1.85"/><ellipse cx="195.2" cy="135.3" rx="2.13" ry="1.85"/><ellipse cx="205.7" cy="133.7" rx="2.13" ry="1.85"/><ellipse cx="216.2" cy="132.3" rx="2.13" ry="1.85"/><ellipse cx="226.7" cy="130.8" rx="2.13" ry="1.85"/><ellipse cx="237.2" cy="129.4" rx="2.13" ry="1.85"/><ellipse cx="247.7" cy="127.9" rx="2.13" ry="1.85"/><ellipse cx="258.1" cy="126.5" rx="2.13" ry="1.85"/><ellipse cx="268.6" cy="125.0" rx="2.13" ry="1.85"/><ellipse cx="279.1" cy="123.5" rx="2.13" ry="1.85"/><ellipse cx="289.6" cy="121.9" rx="2.13" ry="1.85"/><ellipse cx="300.1" cy="120.3" rx="2.13" ry="1.85"/><ellipse cx="310.6" cy="118.7" rx="2.13" ry="1.85"/><ellipse cx="321.0" cy="116.9" rx="2.13" ry="1.85"/><ellipse cx="331.5" cy="115.2" rx="2.13" ry="1.85"/><ellipse cx="342.0" cy="113.3" rx="2.13" ry="1.85"/><ellipse cx="352.5" cy="111.4" rx="2.13" ry="1.85"/><ellipse cx="363.0" cy="109.3" rx="2.13" ry="1.85"/><ellipse cx="373.4" cy="107.2" rx="2.13" ry="1.85"/><ellipse cx="383.9" cy="105.0" rx="2.13" ry="1.85"/><ellipse cx="394.4" cy="102.6" rx="2.13" ry="1.85"/><ellipse cx="404.9" cy="100.1" rx="2.13" ry="1.85"/><ellipse cx="415.4" cy="97.5" rx="2.13" ry="1.85"/><ellipse cx="425.9" cy="94.7" rx="2.13" ry="1.85"/><ellipse cx="436.3" cy="91.8" rx="2.13" ry="1.85"/><ellipse cx="446.8" cy="88.6" rx="2.13" ry="1.85"/><ellipse cx="457.3" cy="85.2" rx="2.13" ry="1.85"/><ellipse cx="467.8" cy="81.4" rx="2.13" ry="1.85"/><ellipse cx="478.3" cy="77.3" rx="2.13" ry="1.85"/><ellipse cx="488.8" cy="72.6" rx="2.13" ry="1.85"/><ellipse cx="499.2" cy="67.3" rx="2.13" ry="1.85"/><ellipse cx="509.7" cy="61.2" rx="2.13" ry="1.85"/><ellipse cx="520.2" cy="54.1" rx="2.13" ry="1.85"/><ellipse cx="530.7" cy="45.7" rx="2.13" ry="1.85"/><ellipse cx="112.1" cy="309.6" rx="2.13" ry="1.85"/><ellipse cx="122.6" cy="306.6" rx="2.13" ry="1.85"/><ellipse cx="133.0" cy="304.1" rx="2.13" ry="1.85"/><ellipse cx="143.5" cy="302.0" rx="2.13" ry="1.85"/><ellipse cx="154.0" cy="300.4" rx="2.13" ry="1.85"/><ellipse cx="164.5" cy="299.1" rx="2.13" ry="1.85"/><ellipse cx="175.0" cy="298.2" rx="2.13" ry="1.85"/><ellipse cx="185.4" cy="297.5" rx="2.13" ry="1.85"/><ellipse cx="195.9" cy="296.9" rx="2.13" ry="1.85"/><ellipse cx="206.4" cy="296.3" rx="2.13" ry="1.85"/><ellipse cx="216.9" cy="295.7" rx="2.13" ry="1.85"/><ellipse cx="227.4" cy="294.9" rx="2.13" ry="1.85"/><ellipse cx="237.9" cy="293.9" rx="2.13" ry="1.85"/><ellipse cx="248.3" cy="292.9" rx="2.13" ry="1.85"/><ellipse cx="258.8" cy="291.9" rx="2.13" ry="1.85"/><ellipse cx="269.3" cy="291.1" rx="2.13" ry="1.85"/><ellipse cx="279.8" cy="290.4" rx="2.13" ry="1.85"/><ellipse cx="290.3" cy="289.9" rx="2.13" ry="1.85"/><ellipse cx="300.8" cy="289.6" rx="2.13" ry="1.85"/><ellipse cx="311.2" cy="289.4" rx="2.13" ry="1.85"/><ellipse cx="321.7" cy="289.2" rx="2.13" ry="1.85"/><ellipse cx="332.2" cy="289.1" rx="2.13" ry="1.85"/><ellipse cx="342.7" cy="288.9" rx="2.13" ry="1.85"/><ellipse cx="353.2" cy="288.6" rx="2.13" ry="1.85"/><ellipse cx="363.7" cy="288.1" rx="2.13" ry="1.85"/><ellipse cx="374.1" cy="287.5" rx="2.13" ry="1.85"/><ellipse cx="384.6" cy="286.6" rx="2.13" ry="1.85"/><ellipse cx="395.1" cy="285.4" rx="2.13" ry="1.85"/><ellipse cx="405.6" cy="283.8" rx="2.13" ry="1.85"/><ellipse cx="416.1" cy="281.7" rx="2.13" ry="1.85"/><ellipse cx="426.6" cy="279.1" rx="2.13" ry="1.85"/><ellipse cx="437.0" cy="275.6" rx="2.13" ry="1.85"/><ellipse cx="447.5" cy="270.6" rx="2.13" ry="1.85"/><ellipse cx="458.0" cy="263.9" rx="2.13" ry="1.85"/><ellipse cx="468.5" cy="255.0" rx="2.13" ry="1.85"/><ellipse cx="479.0" cy="242.8" rx="2.13" ry="1.85"/><ellipse cx="489.4" cy="226.2" rx="2.13" ry="1.85"/><ellipse cx="499.9" cy="202.8" rx="2.13" ry="1.85"/><ellipse cx="510.4" cy="169.7" rx="2.13" ry="1.85"/><ellipse cx="520.9" cy="128.7" rx="2.13" ry="1.85"/><ellipse cx="531.4" cy="68.9" rx="2.13" ry="1.85"/></g>
<g fill="none" stroke="#f28a8a" stroke-width="0.55"><path d="M110.3,224.5 h4.60 l-2.30,-3.8 z"/><path d="M120.8,208.2 h4.60 l-2.30,-3.8 z"/><path d="M131.3,197.2 h4.60 l-2.30,-3.8 z"/><path d="M141.8,188.6 h4.60 l-2.30,-3.8 z"/><path d="M152.3,181.4 h4.60 l-2.30,-3.8 z"/><path d="M162.8,175.4 h4.60 l-2.30,-3.8 z"/><path d="M173.2,170.2 h4.60 l-2.30,-3.8 z"/><path d="M183.7,165.7 h4.60 l-2.30,-3.8 z"/><path d="M194.2,161.7 h4.60 l-2.30,-3.8 z"/><path d="M204.7,158.2 h4.60 l-2.30,-3.8 z"/><path d="M215.2,154.8 h4.60 l-2.30,-3.8 z"/><path d="M225.7,151.6 h4.60 l-2.30,-3.8 z"/><path d="M236.1,148.4 h4.60 l-2.30,-3.8 z"/><path d="M246.6,145.2 h4.60 l-2.30,-3.8 z"/><path d="M257.1,141.9 h4.60 l-2.30,-3.8 z"/><path d="M267.6,138.6 h4.60 l-2.30,-3.8 z"/><path d="M278.1,135.1 h4.60 l-2.30,-3.8 z"/><path d="M288.6,131.6 h4.60 l-2.30,-3.8 z"/><path d="M299.0,127.9 h4.60 l-2.30,-3.8 z"/><path d="M309.5,124.3 h4.60 l-2.30,-3.8 z"/><path d="M320.0,120.5 h4.60 l-2.30,-3.8 z"/><path d="M330.5,116.7 h4.60 l-2.30,-3.8 z"/><path d="M341.0,112.9 h4.60 l-2.30,-3.8 z"/><path d="M351.4,109.0 h4.60 l-2.30,-3.8 z"/><path d="M361.9,105.1 h4.60 l-2.30,-3.8 z"/><path d="M372.4,101.2 h4.60 l-2.30,-3.8 z"/><path d="M382.9,97.2 h4.60 l-2.30,-3.8 z"/><path d="M393.4,93.2 h4.60 l-2.30,-3.8 z"/><path d="M403.9,89.3 h4.60 l-2.30,-3.8 z"/><path d="M414.3,85.3 h4.60 l-2.30,-3.8 z"/><path d="M424.8,81.4 h4.60 l-2.30,-3.8 z"/><path d="M435.3,77.5 h4.60 l-2.30,-3.8 z"/><path d="M445.8,73.5 h4.60 l-2.30,-3.8 z"/><path d="M456.3,69.3 h4.60 l-2.30,-3.8 z"/><path d="M466.8,65.0 h4.60 l-2.30,-3.8 z"/><path d="M477.2,60.3 h4.60 l-2.30,-3.8 z"/><path d="M487.7,55.1 h4.60 l-2.30,-3.8 z"/><path d="M498.2,49.4 h4.60 l-2.30,-3.8 z"/><path d="M508.7,43.1 h4.60 l-2.30,-3.8 z"/><path d="M519.2,36.1 h4.60 l-2.30,-3.8 z"/><path d="M529.7,28.5 h4.60 l-2.30,-3.8 z"/><path d="M113.8,316.7 h4.60 l-2.30,-3.8 z"/><path d="M124.3,314.6 h4.60 l-2.30,-3.8 z"/><path d="M134.8,312.8 h4.60 l-2.30,-3.8 z"/><path d="M145.2,311.4 h4.60 l-2.30,-3.8 z"/><path d="M155.7,310.1 h4.60 l-2.30,-3.8 z"/><path d="M166.2,308.9 h4.60 l-2.30,-3.8 z"/><path d="M176.7,307.7 h4.60 l-2.30,-3.8 z"/><path d="M187.2,306.5 h4.60 l-2.30,-3.8 z"/><path d="M197.7,305.4 h4.60 l-2.30,-3.8 z"/><path d="M208.1,304.2 h4.60 l-2.30,-3.8 z"/><path d="M218.6,303.0 h4.60 l-2.30,-3.8 z"/><path d="M229.1,301.7 h4.60 l-2.30,-3.8 z"/><path d="M239.6,300.3 h4.60 l-2.30,-3.8 z"/><path d="M250.1,298.9 h4.60 l-2.30,-3.8 z"/><path d="M260.6,297.3 h4.60 l-2.30,-3.8 z"/><path d="M271.0,295.6 h4.60 l-2.30,-3.8 z"/><path d="M281.5,293.7 h4.60 l-2.30,-3.8 z"/><path d="M292.0,291.6 h4.60 l-2.30,-3.8 z"/><path d="M302.5,289.3 h4.60 l-2.30,-3.8 z"/><path d="M313.0,286.7 h4.60 l-2.30,-3.8 z"/><path d="M323.4,284.0 h4.60 l-2.30,-3.8 z"/><path d="M333.9,281.2 h4.60 l-2.30,-3.8 z"/><path d="M344.4,278.4 h4.60 l-2.30,-3.8 z"/><path d="M354.9,275.5 h4.60 l-2.30,-3.8 z"/><path d="M365.4,272.5 h4.60 l-2.30,-3.8 z"/><path d="M375.9,269.2 h4.60 l-2.30,-3.8 z"/><path d="M386.3,265.6 h4.60 l-2.30,-3.8 z"/><path d="M396.8,261.6 h4.60 l-2.30,-3.8 z"/><path d="M407.3,257.1 h4.60 l-2.30,-3.8 z"/><path d="M417.8,252.1 h4.60 l-2.30,-3.8 z"/><path d="M428.3,246.3 h4.60 l-2.30,-3.8 z"/><path d="M438.8,239.8 h4.60 l-2.30,-3.8 z"/><path d="M449.2,232.2 h4.60 l-2.30,-3.8 z"/><path d="M459.7,223.2 h4.60 l-2.30,-3.8 z"/><path d="M470.2,212.5 h4.60 l-2.30,-3.8 z"/><path d="M480.7,199.7 h4.60 l-2.30,-3.8 z"/><path d="M491.2,184.2 h4.60 l-2.30,-3.8 z"/><path d="M501.7,164.6 h4.60 l-2.30,-3.8 z"/><path d="M512.1,138.0 h4.60 l-2.30,-3.8 z"/><path d="M522.6,96.4 h4.60 l-2.30,-3.8 z"/><path d="M533.1,28.8 h4.60 l-2.30,-3.8 z"/></g>
<path d="M107.24,240.00 L107.48,238.49 L107.76,236.98 L108.08,235.49 L108.43,234.01 L108.83,232.54 L109.26,231.09 L109.72,229.64 L110.22,228.20 L110.76,226.78 L111.33,225.37 L111.93,223.97 L112.57,222.58 L113.23,221.20 L113.93,219.84 L114.66,218.49 L115.42,217.15 L116.21,215.82 L117.03,214.50 L117.88,213.20 L118.75,211.91 L119.65,210.63 L120.58,209.36 L121.53,208.11 L122.51,206.87 L123.51,205.64 L124.53,204.43 L125.58,203.23 L126.65,202.04 L127.74,200.86 L128.86,199.70 L129.99,198.55 L131.14,197.42 L132.31,196.30 L133.50,195.19 L134.71,194.10 L135.93,193.01 L137.18,191.95 L138.43,190.90 L139.70,189.86 L140.99,188.83 L142.29,187.82 L143.60,186.83 L144.93,185.85 L146.27,184.88 L147.62,183.92 L148.98,182.98 L150.35,182.06 L151.74,181.15 L153.14,180.25 L154.54,179.36 L155.96,178.49 L157.39,177.63 L158.83,176.78 L160.28,175.95 L161.74,175.12 L163.20,174.32 L164.68,173.52 L166.16,172.73 L167.66,171.96 L169.16,171.20 L170.67,170.45 L172.18,169.71 L173.71,168.99 L175.24,168.27 L176.77,167.57 L178.32,166.88 L179.87,166.20 L181.42,165.53 L182.98,164.87 L184.55,164.22 L186.12,163.58 L187.70,162.95 L189.28,162.33 L190.86,161.73 L192.45,161.13 L194.04,160.54 L195.64,159.95 L197.24,159.38 L198.84,158.81 L200.45,158.25 L202.06,157.70 L203.68,157.16 L205.29,156.62 L206.91,156.08 L208.53,155.56 L210.16,155.03 L211.78,154.51 L213.41,154.00 L215.04,153.49 L216.67,152.98 L218.30,152.47 L219.93,151.97 L221.57,151.47 L223.20,150.97 L224.84,150.47 L226.48,149.98 L228.11,149.48 L229.75,148.99 L231.39,148.49 L233.02,147.99 L234.66,147.50 L236.30,147.00 L237.93,146.50 L239.57,146.00 L241.21,145.50 L242.84,145.00 L244.48,144.50 L246.11,144.00 L247.75,143.49 L249.38,142.99 L251.01,142.48 L252.65,141.97 L254.28,141.46 L255.91,140.95 L257.54,140.43 L259.17,139.92 L260.80,139.40 L262.42,138.88 L264.05,138.36 L265.68,137.84 L267.30,137.31 L268.93,136.78 L270.55,136.25 L272.17,135.72 L273.80,135.19 L275.42,134.65 L277.04,134.12 L278.66,133.58 L280.28,133.04 L281.89,132.50 L283.51,131.96 L285.13,131.41 L286.74,130.86 L288.36,130.32 L289.97,129.77 L291.59,129.21 L293.20,128.66 L294.81,128.11 L296.43,127.55 L298.04,126.99 L299.65,126.44 L301.26,125.88 L302.87,125.31 L304.48,124.75 L306.09,124.19 L307.69,123.62 L309.30,123.05 L310.91,122.49 L312.51,121.92 L314.12,121.35 L315.73,120.78 L317.33,120.20 L318.93,119.63 L320.54,119.05 L322.14,118.48 L323.74,117.90 L325.35,117.32 L326.95,116.74 L328.55,116.16 L330.15,115.58 L331.75,115.00 L333.35,114.41 L334.95,113.83 L336.55,113.24 L338.15,112.66 L339.75,112.07 L341.35,111.48 L342.95,110.90 L344.55,110.31 L346.14,109.72 L347.74,109.13 L349.34,108.53 L350.94,107.94 L352.53,107.35 L354.13,106.76 L355.73,106.16 L357.32,105.57 L358.92,104.97 L360.51,104.38 L362.11,103.78 L363.70,103.18 L365.30,102.59 L366.89,101.99 L368.49,101.39 L370.08,100.79 L371.68,100.19 L373.27,99.59 L374.87,99.00 L376.46,98.40 L378.05,97.80 L379.65,97.19 L381.24,96.59 L382.84,95.99 L384.43,95.39 L386.02,94.79 L387.62,94.19 L389.21,93.59 L390.81,92.99 L392.40,92.39 L393.99,91.78 L395.59,91.18 L397.18,90.58 L398.78,89.98 L400.37,89.38 L401.96,88.78 L403.56,88.17 L405.15,87.57 L406.75,86.97 L408.34,86.37 L409.94,85.77 L411.53,85.17 L413.13,84.57 L414.72,83.97 L416.32,83.37 L417.91,82.77 L419.51,82.17 L421.11,81.57 L422.70,80.97 L424.30,80.38 L425.89,79.78 L427.49,79.18 L429.09,78.58 L430.69,77.99 L432.28,77.39 L433.88,76.79 L435.47,76.19 L437.07,75.59 L438.66,74.99 L440.26,74.39 L441.85,73.79 L443.44,73.18 L445.03,72.57 L446.62,71.96 L448.21,71.35 L449.79,70.73 L451.37,70.11 L452.96,69.49 L454.53,68.87 L456.11,68.24 L457.68,67.61 L459.26,66.97 L460.83,66.33 L462.39,65.69 L463.95,65.04 L465.51,64.38 L467.07,63.72 L468.62,63.06 L470.17,62.39 L471.72,61.71 L473.26,61.03 L474.80,60.34 L476.33,59.65 L477.86,58.95 L479.39,58.24 L480.91,57.53 L482.42,56.80 L483.93,56.07 L485.44,55.34 L486.94,54.59 L488.44,53.84 L489.93,53.08 L491.41,52.31 L492.89,51.53 L494.37,50.74 L495.83,49.95 L497.30,49.14 L498.75,48.32 L500.20,47.50 L501.64,46.66 L503.08,45.82 L504.51,44.97 L505.94,44.11 L507.36,43.24 L508.77,42.36 L510.18,41.48 L511.58,40.58 L512.98,39.68 L514.37,38.78 L515.75,37.86 L517.14,36.94 L518.51,36.01 L519.88,35.07 L521.24,34.13 L522.60,33.18 L523.96,32.23 L525.31,31.27 L526.65,30.30 L527.99,29.33 L529.32,28.36 L530.65,27.37 L531.98,26.39 L533.29,25.40 L534.61,24.40 L535.92,23.40 L535.69,24.88 L535.45,26.36 L535.22,27.85 L535.00,29.33 L534.77,30.82 L534.55,32.31 L534.33,33.80 L534.11,35.29 L533.89,36.78 L533.67,38.27 L533.45,39.76 L533.24,41.25 L533.02,42.75 L532.81,44.24 L532.59,45.74 L532.38,47.23 L532.16,48.73 L531.95,50.23 L531.74,51.73 L531.52,53.22 L531.31,54.72 L531.09,56.22 L530.88,57.72 L530.66,59.22 L530.44,60.72 L530.22,62.22 L530.00,63.72 L529.78,65.22 L529.55,66.71 L529.33,68.21 L529.10,69.71 L528.87,71.21 L528.64,72.71 L528.40,74.21 L528.16,75.71 L527.92,77.20 L527.68,78.70 L527.43,80.20 L527.18,81.69 L526.93,83.19 L526.68,84.68 L526.42,86.18 L526.15,87.67 L525.88,89.16 L525.61,90.65 L525.33,92.14 L525.05,93.63 L524.77,95.12 L524.48,96.61 L524.18,98.10 L523.88,99.58 L523.58,101.06 L523.27,102.55 L522.95,104.03 L522.63,105.51 L522.30,106.99 L521.97,108.46 L521.63,109.94 L521.28,111.41 L520.93,112.88 L520.57,114.35 L520.21,115.82 L519.83,117.29 L519.45,118.75 L519.07,120.22 L518.68,121.68 L518.28,123.14 L517.87,124.60 L517.45,126.05 L517.03,127.50 L516.60,128.96 L516.17,130.41 L515.72,131.85 L515.27,133.30 L514.81,134.74 L514.34,136.18 L513.86,137.62 L513.37,139.05 L512.88,140.49 L512.37,141.92 L511.86,143.35 L511.34,144.77 L510.81,146.19 L510.27,147.61 L509.72,149.03 L509.16,150.45 L508.59,151.86 L508.01,153.27 L507.43,154.68 L506.83,156.08 L506.22,157.48 L505.60,158.88 L504.97,160.27 L504.34,161.67 L503.69,163.05 L503.03,164.44 L502.36,165.82 L501.68,167.20 L500.98,168.58 L500.28,169.95 L499.56,171.32 L498.84,172.69 L498.10,174.05 L497.35,175.41 L496.59,176.76 L495.82,178.11 L495.03,179.46 L494.23,180.81 L493.43,182.15 L492.61,183.48 L491.77,184.82 L490.93,186.14 L490.07,187.47 L489.20,188.78 L488.32,190.09 L487.43,191.40 L486.53,192.70 L485.61,194.00 L484.69,195.29 L483.75,196.57 L482.80,197.84 L481.83,199.11 L480.86,200.38 L479.87,201.63 L478.88,202.88 L477.87,204.12 L476.85,205.35 L475.81,206.58 L474.77,207.79 L473.71,209.00 L472.65,210.20 L471.57,211.39 L470.48,212.58 L469.38,213.75 L468.26,214.91 L467.14,216.07 L466.00,217.21 L464.85,218.35 L463.69,219.47 L462.52,220.59 L461.34,221.69 L460.15,222.78 L458.94,223.86 L457.72,224.93 L456.50,225.99 L455.26,227.04 L454.01,228.08 L452.74,229.10 L451.47,230.11 L450.19,231.11 L448.89,232.10 L447.59,233.08 L446.27,234.04 L444.94,235.00 L443.61,235.94 L442.26,236.87 L440.90,237.79 L439.54,238.70 L438.16,239.59 L436.78,240.48 L435.38,241.35 L433.98,242.22 L432.57,243.07 L431.15,243.91 L429.72,244.75 L428.28,245.57 L426.83,246.38 L425.38,247.18 L423.92,247.97 L422.45,248.75 L420.97,249.52 L419.49,250.28 L418.00,251.03 L416.50,251.77 L414.99,252.51 L413.48,253.23 L411.96,253.94 L410.44,254.64 L408.90,255.33 L407.37,256.02 L405.82,256.69 L404.28,257.36 L402.72,258.01 L401.16,258.66 L399.60,259.30 L398.03,259.93 L396.45,260.55 L394.87,261.16 L393.29,261.76 L391.70,262.36 L390.11,262.95 L388.51,263.53 L386.91,264.10 L385.30,264.66 L383.69,265.22 L382.08,265.77 L380.46,266.32 L378.84,266.86 L377.22,267.39 L375.59,267.92 L373.96,268.44 L372.33,268.95 L370.70,269.46 L369.06,269.96 L367.42,270.46 L365.78,270.95 L364.13,271.44 L362.48,271.93 L360.84,272.41 L359.18,272.88 L357.53,273.35 L355.88,273.82 L354.22,274.29 L352.57,274.75 L350.91,275.20 L349.25,275.66 L347.59,276.11 L345.93,276.56 L344.27,277.01 L342.61,277.45 L340.95,277.90 L339.29,278.34 L337.62,278.78 L335.96,279.21 L334.30,279.65 L332.64,280.09 L330.98,280.52 L329.32,280.95 L327.66,281.39 L326.00,281.82 L324.34,282.25 L322.69,282.69 L321.03,283.12 L319.37,283.54 L317.72,283.97 L316.06,284.39 L314.40,284.81 L312.74,285.23 L311.09,285.65 L309.43,286.06 L307.77,286.46 L306.11,286.86 L304.44,287.26 L302.78,287.65 L301.11,288.03 L299.45,288.41 L297.78,288.78 L296.10,289.14 L294.43,289.50 L292.76,289.85 L291.08,290.20 L289.40,290.54 L287.72,290.87 L286.03,291.20 L284.35,291.52 L282.66,291.84 L280.98,292.15 L279.29,292.46 L277.60,292.76 L275.91,293.06 L274.21,293.35 L272.52,293.64 L270.82,293.93 L269.13,294.21 L267.43,294.49 L265.73,294.76 L264.03,295.03 L262.33,295.30 L260.63,295.56 L258.92,295.82 L257.22,296.08 L255.51,296.33 L253.81,296.58 L252.10,296.83 L250.39,297.08 L248.68,297.32 L246.97,297.55 L245.26,297.79 L243.55,298.02 L241.84,298.25 L240.13,298.48 L238.41,298.71 L236.70,298.93 L234.99,299.15 L233.27,299.37 L231.55,299.58 L229.84,299.80 L228.12,300.01 L226.40,300.22 L224.69,300.43 L222.97,300.64 L221.25,300.84 L219.53,301.04 L217.81,301.25 L216.09,301.45 L214.37,301.65 L212.65,301.84 L210.93,302.04 L209.21,302.24 L207.49,302.43 L205.77,302.63 L204.05,302.82 L202.33,303.01 L200.61,303.20 L198.89,303.39 L197.17,303.58 L195.45,303.77 L193.73,303.96 L192.01,304.15 L190.28,304.34 L188.56,304.53 L186.84,304.72 L185.13,304.91 L183.41,305.10 L181.69,305.29 L179.97,305.48 L178.25,305.67 L176.53,305.86 L174.81,306.05 L173.10,306.25 L171.38,306.44 L169.66,306.63 L167.95,306.83 L166.23,307.02 L164.52,307.22 L162.80,307.42 L161.09,307.62 L159.38,307.82 L157.67,308.02 L155.96,308.22 L154.25,308.43 L152.54,308.64 L150.83,308.85 L149.12,309.07 L147.41,309.29 L145.71,309.52 L144.00,309.75 L142.30,309.98 L140.60,310.22 L138.90,310.47 L137.20,310.73 L135.50,310.99 L133.81,311.26 L132.11,311.53 L130.42,311.82 L128.73,312.11 L127.04,312.41 L125.35,312.72 L123.66,313.05 L121.97,313.38 L120.29,313.72 L118.61,314.08 L116.93,314.44 L115.25,314.82 L113.58,315.21 L111.90,315.61 L110.23,316.03 L108.56,316.46 L106.90,316.90 L107.24,240.00" fill="none" stroke="#e60a0a" stroke-width="2.1" stroke-linejoin="round" stroke-linecap="round"/>
</g>
<text transform="translate(47.8,13.05) scale(1.0,1)" font-family='"Liberation Sans", sans-serif' font-size="16.6" font-weight="normal" text-anchor="end" fill="#000" >4</text>
<text transform="translate(47.8,61.81) scale(1.0,1)" font-family='"Liberation Sans", sans-serif' font-size="16.6" font-weight="normal" text-anchor="end" fill="#000" >3</text>
<text transform="translate(47.8,110.57) scale(1.0,1)" font-family='"Liberation Sans", sans-serif' font-size="16.6" font-weight="normal" text-anchor="end" fill="#000" >2</text>
<text transform="translate(47.8,159.33) scale(1.0,1)" font-family='"Liberation Sans", sans-serif' font-size="16.6" font-weight="normal" text-anchor="end" fill="#000" >1</text>
<text transform="translate(47.8,208.09) scale(1.0,1)" font-family='"Liberation Sans", sans-serif' font-size="16.6" font-weight="normal" text-anchor="end" fill="#000" >0</text>
<text transform="translate(47.8,256.85) scale(1.0,1)" font-family='"Liberation Sans", sans-serif' font-size="16.6" font-weight="normal" text-anchor="end" fill="#000" >-1</text>
<text transform="translate(47.8,305.61) scale(1.0,1)" font-family='"Liberation Sans", sans-serif' font-size="16.6" font-weight="normal" text-anchor="end" fill="#000" >-2</text>
<text transform="translate(47.8,354.37) scale(1.0,1)" font-family='"Liberation Sans", sans-serif' font-size="16.6" font-weight="normal" text-anchor="end" fill="#000" >-3</text>
<text transform="translate(92.8,370.0) scale(1.0,1)" font-family='"Liberation Sans", sans-serif' font-size="16.6" font-weight="normal" text-anchor="middle" fill="#000" >0</text>
<text transform="translate(167.44,370.0) scale(1.0,1)" font-family='"Liberation Sans", sans-serif' font-size="16.6" font-weight="normal" text-anchor="middle" fill="#000" >0.2</text>
<text transform="translate(242.08,370.0) scale(1.0,1)" font-family='"Liberation Sans", sans-serif' font-size="16.6" font-weight="normal" text-anchor="middle" fill="#000" >0.4</text>
<text transform="translate(316.72,370.0) scale(1.0,1)" font-family='"Liberation Sans", sans-serif' font-size="16.6" font-weight="normal" text-anchor="middle" fill="#000" >0.6</text>
<text transform="translate(391.36,370.0) scale(1.0,1)" font-family='"Liberation Sans", sans-serif' font-size="16.6" font-weight="normal" text-anchor="middle" fill="#000" >0.8</text>
<text transform="translate(465.5,370.0) scale(1.0,1)" font-family='"Liberation Sans", sans-serif' font-size="16.6" font-weight="normal" text-anchor="middle" fill="#000" >1</text>
<text transform="translate(266.9,395.9) scale(0.969,1)" font-family='"Liberation Sans", sans-serif' font-size="17.4" font-weight="bold" text-anchor="middle" fill="#000" >E / V vs Ag/AgCl</text>
<text transform="translate(19.3,217.2) rotate(-90) scale(0.966,1)" font-family='"Liberation Sans", sans-serif' font-size="17.3" font-weight="bold" text-anchor="start" fill="#000">i / mA.cm</text>
<text transform="translate(10.4,142.3) rotate(-90) scale(1.22,1)" font-family='"Liberation Sans", sans-serif' font-size="9.7" font-weight="bold" text-anchor="start" fill="#000">2</text>
<rect x="66.8" y="10.3" width="132" height="92.6" fill="#fff" stroke="#1c1c1c" stroke-width="1.35"/>
<path d="M74.5,25 H112.5" stroke="#0b0bf0" stroke-width="2.5" fill="none"/>
<text transform="translate(116.2,31.8) scale(1.02,1)" font-family='"Liberation Sans", sans-serif' font-size="16.6" font-weight="normal" text-anchor="start" fill="#0b0bf0" >10 wt % C</text>
<path d="M91.6,46.2 h4 l-2,-3.8 z" fill="none" stroke="#f28a8a" stroke-width="0.55"/>
<path d="M74.5,44 H112.5" stroke="#e60a0a" stroke-width="2.1" fill="none"/>
<text transform="translate(116.2,50.5) scale(1.02,1)" font-family='"Liberation Sans", sans-serif' font-size="16.6" font-weight="normal" text-anchor="start" fill="#e60a0a" >20 wt% C</text>
<path d="M74.5,66.3 H112.5" stroke="#000000" stroke-width="2.5" fill="none"/>
<text transform="translate(116.2,72.8) scale(1.02,1)" font-family='"Liberation Sans", sans-serif' font-size="16.6" font-weight="normal" text-anchor="start" fill="#000000" >40 wt% C</text>
<path d="M74.5,87.9 H112.5" stroke="#ff7f0e" stroke-width="2.0" fill="none"/>
<text transform="translate(116.2,94.3) scale(1.02,1)" font-family='"Liberation Sans", sans-serif' font-size="16.6" font-weight="normal" text-anchor="start" fill="#ff7f0e" >50 wt% C</text>
<circle cx="93.1" cy="66.3" r="1.6" fill="#fff" stroke="#999" stroke-width="0.4"/>
</svg></body></html>
